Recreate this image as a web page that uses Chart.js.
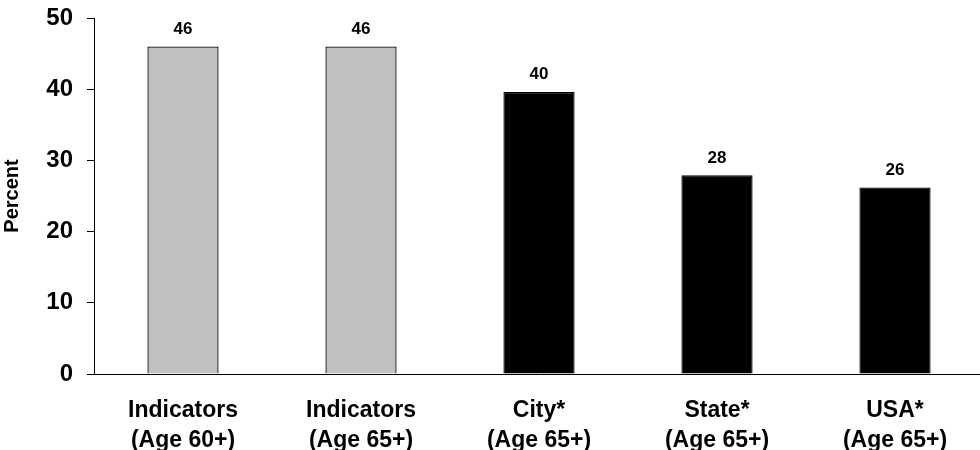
<!DOCTYPE html>
<html>
<head>
<meta charset="utf-8">
<script src="https://cdn.jsdelivr.net/npm/chart.js@4.4.1/dist/chart.umd.min.js"></script>
<style>
  html, body { margin: 0; padding: 0; background: #fff; overflow: hidden; }
  #wrap { width: 984px; height: 450px; }
</style>
</head>
<body>
<div id="wrap"><canvas id="barChart"></canvas></div>
<script>
const categories = [
  ['Indicators', '(Age 60+)'],
  ['Indicators', '(Age 65+)'],
  ['City*', '(Age 65+)'],
  ['State*', '(Age 65+)'],
  ['USA*', '(Age 65+)']
];
const percentValues = [46, 46, 39.6, 27.9, 26.2];
const barColors = ['#c0c0c0', '#c0c0c0', '#000000', '#000000', '#000000'];
const yTicks = [0, 10, 20, 30, 40, 50];

const FONT = '"Liberation Sans", Arial, sans-serif';

// write the rounded value above each bar
const valueLabels = {
  id: 'valueLabels',
  afterDatasetsDraw(chart) {
    const ctx = chart.ctx;
    const meta = chart.getDatasetMeta(0);
    ctx.save();
    ctx.font = 'bold 17px ' + FONT;
    ctx.fillStyle = '#000';
    ctx.textAlign = 'center';
    ctx.textBaseline = 'bottom';
    meta.data.forEach((bar, i) => {
      ctx.fillText(Math.round(percentValues[i]), bar.x, bar.y - 9);
    });
    ctx.restore();
  }
};

new Chart(document.getElementById('barChart'), {
  type: 'bar',
  data: {
    labels: categories,
    datasets: [{
      data: percentValues,
      backgroundColor: barColors,
      borderColor: '#000',
      borderWidth: 1.3,
      barPercentage: 0.4,
      categoryPercentage: 1.0
    }]
  },
  options: {
    responsive: true,
    maintainAspectRatio: false,
    animation: false,
    layout: { padding: { top: 18, right: 0, left: 0, bottom: 0 } },
    plugins: { legend: { display: false }, tooltip: { enabled: false } },
    scales: {
      x: {
        grid: { display: false },
        border: { color: '#000', width: 1 },
        ticks: {
          color: '#000',
          padding: 14,
          maxRotation: 0,
          autoSkip: false,
          font: { family: FONT, size: 23, weight: 'bold', lineHeight: 1.3 }
        },
        afterFit(scale) { scale.height = 76; }
      },
      y: {
        min: 0,
        max: 50,
        afterBuildTicks(scale) { scale.ticks = yTicks.map(v => ({ value: v })); },
        grid: { drawOnChartArea: false, drawTicks: true, tickLength: 7, color: '#000' },
        border: { color: '#000', width: 1 },
        ticks: {
          color: '#000',
          padding: 14,
          font: { family: FONT, size: 24, weight: 'bold' }
        },
        title: {
          display: true,
          text: 'Percent',
          color: '#000',
          padding: { top: 0, bottom: 0 },
          font: { family: FONT, size: 20, weight: 'bold' }
        },
        afterFit(scale) {
          scale.width = 94;
          scale.paddingTop = 0;
          scale.paddingBottom = 0;
        }
      }
    }
  },
  plugins: [valueLabels]
});
</script>
</body>
</html>
